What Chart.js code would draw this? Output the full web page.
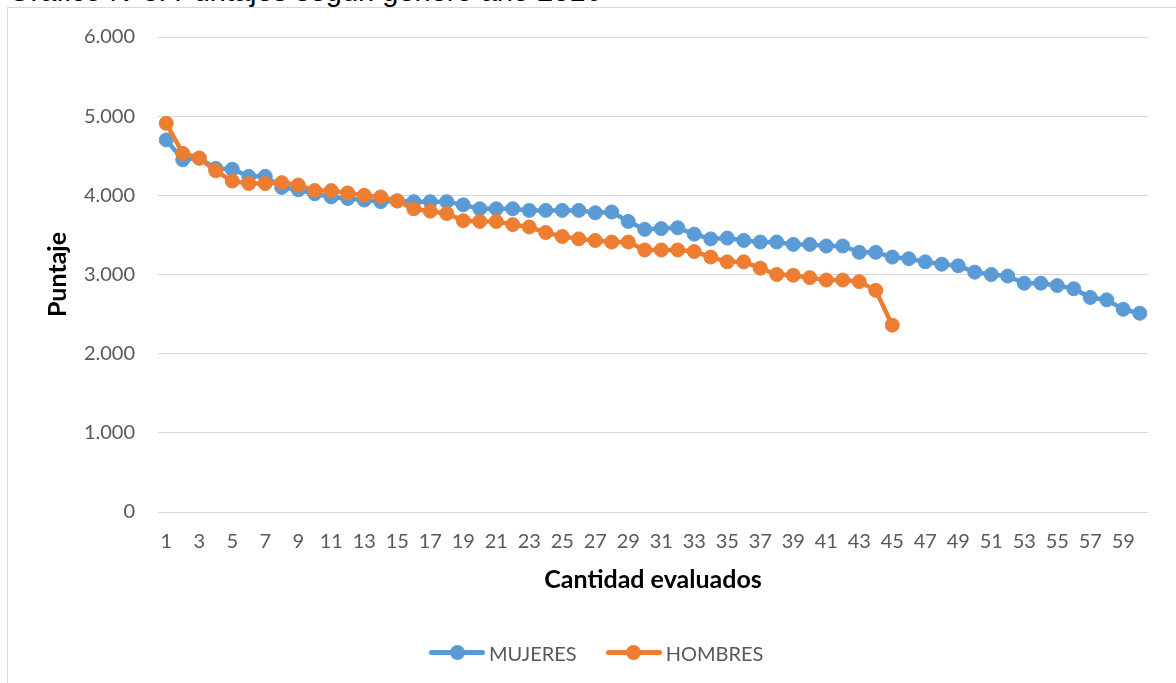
<!DOCTYPE html>
<html lang="es">
<head>
<meta charset="utf-8">
<title>Gráfico N°3: Puntajes según género año 2016</title>
<script src="https://cdn.jsdelivr.net/npm/chart.js@4.4.1/dist/chart.umd.min.js"></script>
<style>
  html, body { margin: 0; padding: 0; background: #ffffff; overflow: hidden; }
  body { width: 1176px; height: 683px; position: relative; }
  #doc-title { position: absolute; left: 8px; top: -23px; font-family: "Liberation Sans", Arial, sans-serif; font-size: 29px; line-height: 29px; color: #000; white-space: nowrap; }
  #frame { position: absolute; left: 7px; top: 7px; width: 1200px; height: 720px; border: 1px solid #D9D9D9; box-sizing: border-box; }
  #chart { position: absolute; left: 0; top: 0; }
  #legend { position: absolute; left: 429px; top: 641px; height: 24px; display: flex; align-items: center; font-family: Lato, "Open Sans", sans-serif; font-size: 20px; color: #595959; }
  .item { display: flex; align-items: center; margin-right: 29px; }
  .sym { position: relative; width: 56px; height: 16px; margin-right: 4px; }
  .sym .ln { position: absolute; left: 0; top: 5px; width: 56px; height: 5px; border-radius: 3px; }
  .sym .pt { position: absolute; left: 20.5px; top: 0px; width: 15px; height: 15px; border-radius: 50%; }
</style>
</head>
<body>
<div id="doc-title">Gráfico N°3: Puntajes según género año 2016</div>
<div id="frame"></div>
<canvas id="chart" width="1176" height="683"></canvas>
<div id="legend"></div>
<script>
// ---- data ----
const categories = ['1','2','3','4','5','6','7','8','9','10','11','12','13','14','15','16','17','18','19','20',
  '21','22','23','24','25','26','27','28','29','30','31','32','33','34','35','36','37','38','39','40',
  '41','42','43','44','45','46','47','48','49','50','51','52','53','54','55','56','57','58','59','60'];

const mujeres = [4700, 4450, 4470, 4340, 4330, 4240, 4240, 4100, 4070, 4020,
                 3980, 3960, 3940, 3920, 3930, 3920, 3920, 3920, 3880, 3830,
                 3830, 3830, 3810, 3810, 3810, 3810, 3780, 3790, 3670, 3570,
                 3580, 3590, 3510, 3450, 3460, 3430, 3410, 3410, 3380, 3380,
                 3360, 3360, 3280, 3280, 3220, 3200, 3160, 3130, 3110, 3030,
                 3000, 2980, 2890, 2890, 2860, 2820, 2710, 2680, 2560, 2510];

const hombres = [4910, 4530, 4470, 4310, 4180, 4150, 4150, 4160, 4130, 4060,
                 4060, 4030, 4000, 3980, 3930, 3830, 3800, 3770, 3680, 3670,
                 3670, 3630, 3600, 3530, 3480, 3450, 3430, 3410, 3410, 3310,
                 3310, 3310, 3290, 3220, 3160, 3160, 3080, 3000, 2990, 2960,
                 2930, 2930, 2910, 2800, 2360];

const yTickValues = [0, 1000, 2000, 3000, 4000, 5000, 6000];
const yTickLabels = ['0', '1.000', '2.000', '3.000', '4.000', '5.000', '6.000'];

const seriesNames = ['MUJERES', 'HOMBRES'];
const seriesColors = ['#5B9BD5', '#ED7D31'];

// ---- chart ----
const FONT = 'Lato, "Open Sans", sans-serif';

function makeDataset(name, values, color, order) {
  return {
    label: name,
    data: values,
    borderColor: color,
    backgroundColor: color,
    borderWidth: 4.5,
    pointRadius: 7,
    pointBorderWidth: 1,
    pointBackgroundColor: color,
    pointBorderColor: color,
    pointHoverRadius: 7,
    tension: 0,
    fill: false,
    order: order
  };
}

const chart = new Chart(document.getElementById('chart'), {
  type: 'line',
  data: {
    labels: categories,
    datasets: [
      makeDataset(seriesNames[0], mujeres, seriesColors[0], 1),
      makeDataset(seriesNames[1], hombres, seriesColors[1], 0)
    ]
  },
  options: {
    responsive: false,
    animation: false,
    events: [],
    layout: { padding: { left: 0, top: 37, right: 28, bottom: 88 } },
    plugins: { legend: { display: false }, tooltip: { enabled: false }, title: { display: false } },
    scales: {
      x: {
        type: 'category',
        offset: true,
        grid: { display: false, drawTicks: false },
        border: { display: false },
        ticks: {
          autoSkip: false, maxRotation: 0, minRotation: 0, padding: 18,
          color: '#595959', font: { family: FONT, size: 20 },
          callback: function (value, index) { return index % 2 === 0 ? this.getLabelForValue(value) : ''; }
        },
        title: {
          display: true, text: 'Cantidad evaluados', color: '#000000',
          font: { family: FONT, size: 25, weight: 'bold' }, padding: { top: 0, bottom: 0 }
        },
        afterFit: function (s) { s.height = 83; }
      },
      y: {
        min: 0, max: 6000,
        afterBuildTicks: function (s) { s.ticks = yTickValues.map(v => ({ value: v })); },
        grid: { color: '#D9D9D9', lineWidth: 1, drawTicks: false },
        border: { display: false },
        ticks: {
          padding: 23, color: '#595959', font: { family: FONT, size: 20 },
          callback: function (value) { const i = yTickValues.indexOf(value); return i >= 0 ? yTickLabels[i] : ''; }
        },
        title: {
          display: true, text: 'Puntaje', color: '#000000',
          font: { family: FONT, size: 25, weight: 'bold' }, padding: { top: 43, bottom: 0 }
        },
        afterFit: function (s) { s.width = 158; }
      }
    }
  }
});

// ---- legend (built from the datasets) ----
const legend = document.getElementById('legend');
chart.data.datasets.forEach(ds => {
  const item = document.createElement('div');
  item.className = 'item';
  const sym = document.createElement('div');
  sym.className = 'sym';
  const ln = document.createElement('div'); ln.className = 'ln'; ln.style.background = ds.borderColor;
  const pt = document.createElement('div'); pt.className = 'pt'; pt.style.background = ds.borderColor;
  sym.appendChild(ln); sym.appendChild(pt);
  const txt = document.createElement('span'); txt.textContent = ds.label;
  item.appendChild(sym); item.appendChild(txt);
  legend.appendChild(item);
});
</script>
</body>
</html>
